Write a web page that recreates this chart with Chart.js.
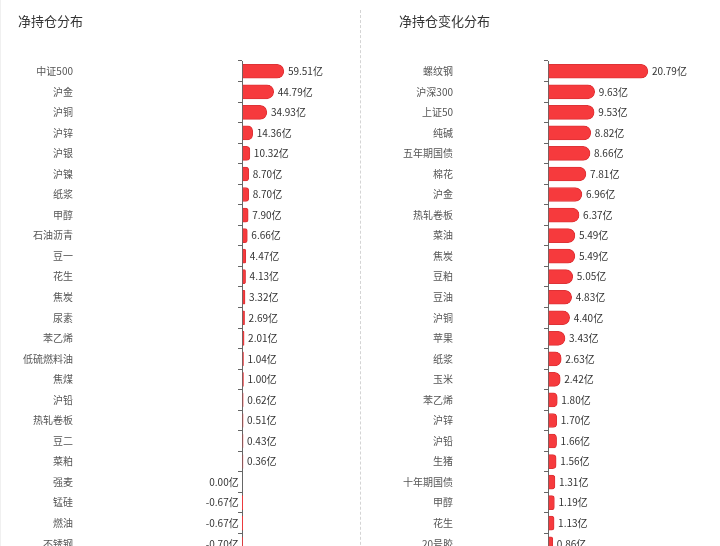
<!DOCTYPE html>
<html>
<head>
<meta charset="utf-8">
<script src="https://cdn.jsdelivr.net/npm/chart.js@4/dist/chart.umd.min.js"></script>
<style>
html, body { margin: 0; padding: 0; background: #fff; overflow: hidden; }
#wrap { position: relative; width: 720px; height: 546px; overflow: hidden; }
.panel { position: absolute; top: 0; width: 360px; height: 580px; }
#p1 { left: 0; border-left: 1px solid #f0f0f0; box-sizing: border-box; }
#p2 { left: 360px; border-left: 1px dashed #d4d4d4; box-sizing: border-box; top: 10px; }
#p2 canvas { margin-top: -10px; }
.title { position: absolute; top: 12px; font: 13px 'Noto Sans CJK SC', 'Noto Sans', sans-serif; color: #333; line-height: 18px; }
</style>
</head>
<body>
<div id="wrap">
  <div class="panel" id="p1"><canvas id="chart1"></canvas></div>
  <div class="panel" id="p2"><canvas id="chart2"></canvas></div>
  <div class="title" style="left:18px">净持仓分布</div>
  <div class="title" style="left:399px">净持仓变化分布</div>
</div>
<script>
// 净持仓分布
var net_names = ["中证500", "沪金", "沪铜", "沪锌", "沪银", "沪镍", "纸浆", "甲醇", "石油沥青", "豆一",
  "花生", "焦炭", "尿素", "苯乙烯", "低硫燃料油", "焦煤", "沪铅", "热轧卷板", "豆二", "菜粕",
  "强麦", "锰硅", "燃油", "不锈钢"];
var net_values = [59.51, 44.79, 34.93, 14.36, 10.32, 8.70, 8.70, 7.90, 6.66, 4.47,
  4.13, 3.32, 2.69, 2.01, 1.04, 1.00, 0.62, 0.51, 0.43, 0.36,
  0.00, -0.67, -0.67, -0.70];

// 净持仓变化分布
var change_names = ["螺纹钢", "沪深300", "上证50", "纯碱", "五年期国债", "棉花", "沪金", "热轧卷板", "菜油", "焦炭",
  "豆粕", "豆油", "沪铜", "苹果", "纸浆", "玉米", "苯乙烯", "沪锌", "沪铅", "生猪",
  "十年期国债", "甲醇", "花生", "20号胶"];
var change_values = [20.79, 9.63, 9.53, 8.82, 8.66, 7.81, 6.96, 6.37, 5.49, 5.49,
  5.05, 4.83, 4.40, 3.43, 2.63, 2.42, 1.80, 1.70, 1.66, 1.56,
  1.31, 1.19, 1.13, 0.86];

var font_family = "'Noto Sans CJK SC', 'Noto Sans', sans-serif";

// draws "xx.xx亿" next to each bar
var valueLabels = {
  id: 'valueLabels',
  afterDatasetsDraw: function (chart) {
    var ctx = chart.ctx;
    var meta = chart.getDatasetMeta(0);
    var values = chart.data.datasets[0].data;
    var zero = chart.scales.x.getPixelForValue(0);
    ctx.save();
    ctx.font = "10px " + font_family;
    ctx.fillStyle = "#333";
    ctx.textBaseline = "middle";
    meta.data.forEach(function (bar, i) {
      var v = values[i];
      var txt = v.toFixed(2) + "亿";
      if (v > 0) {
        ctx.textAlign = "left";
        ctx.fillText(txt, bar.x + 4, bar.y);
      } else {
        ctx.textAlign = "right";
        ctx.fillText(txt, zero - 4, bar.y);
      }
    });
    ctx.restore();
  }
};

function makeChart(id, names, values, xmin, xmax, labelWidth, padRight) {
  return new Chart(document.getElementById(id), {
    type: 'bar',
    data: {
      labels: names,
      datasets: [{
        data: values,
        backgroundColor: '#f63a3d',
        borderColor: '#de3236',
        borderWidth: 1,
        borderRadius: 7,
        borderSkipped: 'start',
        barThickness: 14
      }]
    },
    options: {
      indexAxis: 'y',
      responsive: false,
      animation: false,
      layout: { padding: { left: 0, right: padRight, top: 61, bottom: 0 } },
      plugins: {
        legend: { display: false },
        tooltip: { enabled: false },
        title: { display: false }
      },
      scales: {
        x: { display: false, min: xmin, max: xmax },
        y: {
          offset: true,
          grid: { display: false, drawTicks: false },
          border: { display: false },
          ticks: { color: '#555', padding: 5, font: { size: 10, family: font_family } },
          afterFit: function (scale) { scale.width = labelWidth; }
        },
        y2: {
          type: 'category',
          axis: 'y',
          labels: names,
          position: { x: 0 },
          offset: true,
          grid: { offset: true, drawOnChartArea: false, drawTicks: true, tickLength: 4, color: '#666' },
          border: { display: true, color: '#666' },
          ticks: { display: false }
        }
      }
    },
    plugins: [valueLabels]
  });
}

var c1 = document.getElementById('chart1');
c1.width = 359; c1.height = 565;
var c2 = document.getElementById('chart2');
c2.width = 359; c2.height = 565;

makeChart('chart1', net_names, net_values, -238, 142, 77, 19);
makeChart('chart2', change_names, change_values, -19, 34, 97, 9);
</script>
</body>
</html>
